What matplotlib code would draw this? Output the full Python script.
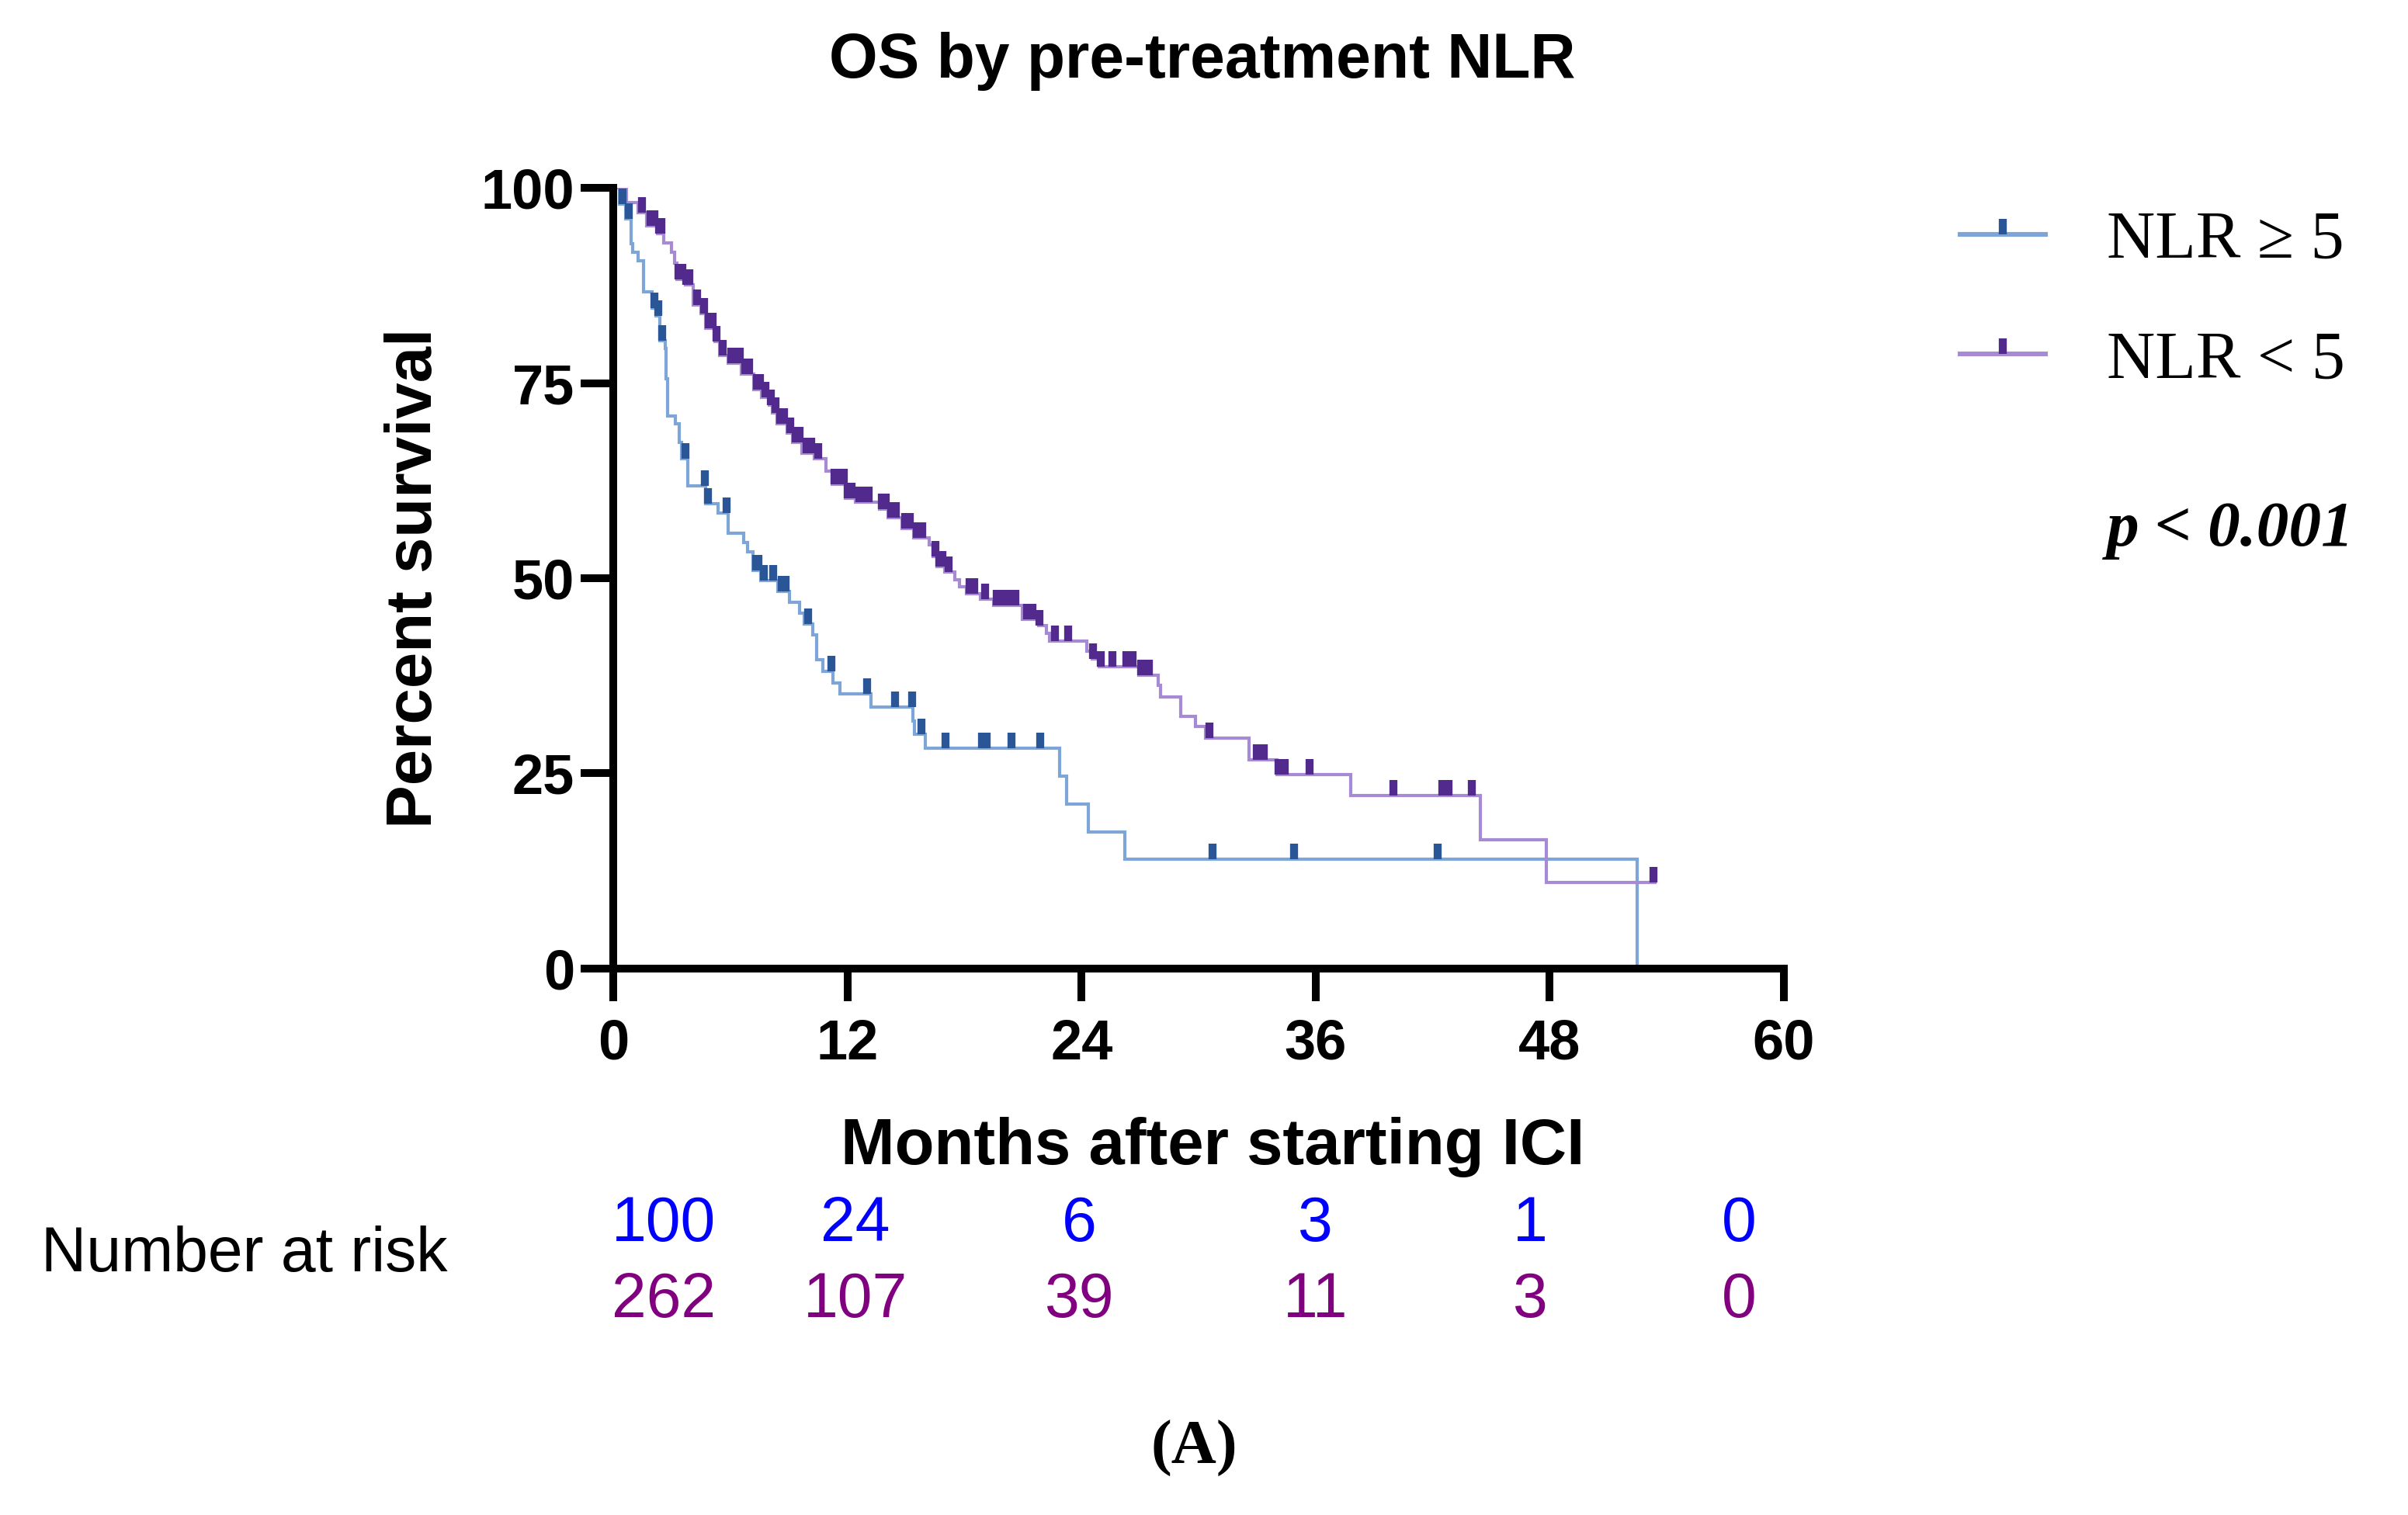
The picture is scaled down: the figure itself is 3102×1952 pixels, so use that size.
import matplotlib
matplotlib.use("Agg")
import matplotlib.pyplot as plt
import matplotlib.transforms as mtransforms
from matplotlib.lines import Line2D
from matplotlib.path import Path
import numpy as np

# ---- data ----
# NLR >= 5 : step times (months) and survival (%) after each step
high_t = [0, 0.33, 0.64, 0.9, 1.0, 1.26, 1.53, 1.99, 2.19, 2.39, 2.65, 2.72, 2.8,
          3.18, 3.38, 3.51, 3.82, 4.75, 5.37, 5.9, 6.7, 6.9, 7.16, 7.56, 8.42,
          9.02, 9.55, 9.79, 10.21, 10.41, 10.74, 11.27, 11.6, 13.2, 15.35, 15.45,
          15.98, 22.88, 23.24, 24.34, 26.2, 52.5]
high_s = [100, 97.9, 96.0, 92.8, 91.8, 90.7, 86.7, 84.6, 83.6, 80.4, 79.4, 75.5, 70.8,
          69.8, 67.4, 65.3, 61.8, 59.5, 58.3, 55.8, 54.6, 53.4, 51.0, 49.7, 48.3,
          46.9, 45.5, 44.1, 42.7, 39.6, 38.1, 36.6, 35.2, 33.5, 31.7, 30.0,
          28.2, 24.6, 21.1, 17.5, 14.0, 0]
high_end = 52.5
high_cens = [0.1, 0.49, 0.81, 2.12, 2.3, 2.52, 3.71, 4.7, 4.85, 5.81, 7.3, 7.45, 7.72,
             8.2, 8.62, 8.82, 9.99, 11.19, 13.0, 14.43, 15.32, 15.8, 17.03, 18.9,
             19.15, 20.4, 21.9, 30.7, 34.9, 42.25]

# NLR < 5
low_t = [0, 0.66, 1.26, 1.7, 2.25, 2.59, 2.98, 3.15, 3.25, 3.71, 4.11, 4.5, 4.75,
         5.2, 5.45, 5.9, 6.55, 7.2, 7.6, 8.0, 8.15, 8.4, 8.9, 9.2, 9.68, 10.3,
         10.88, 11.2, 11.9, 12.4, 13.65, 14.1, 14.8, 15.4, 16.2, 16.4, 16.6, 17.0,
         17.5, 17.75, 18.1, 18.8, 19.5, 20.97, 21.8, 22.2, 22.34, 24.28, 24.55,
         24.9, 26.95, 27.94, 28.06, 29.1, 29.85, 30.35, 32.6, 34.0, 37.8, 44.44,
         47.82]
low_s = [100, 98.1, 96.8, 95.1, 94.1, 92.9, 91.8, 90.4, 88.3, 87.6, 85.0, 83.9, 82.0,
         80.3, 78.5, 77.5, 76.1, 74.2, 73.2, 72.2, 71.2, 69.8, 68.6, 67.4, 66.0, 65.3,
         63.7, 62.0, 60.2, 59.7, 58.8, 57.8, 56.4, 55.2, 54.3, 52.8, 51.5, 50.8,
         49.8, 48.9, 48.0, 47.3, 46.5, 44.7, 43.9, 42.9, 41.9, 40.7, 39.7,
         38.7, 37.6, 36.3, 34.8, 32.3, 31.0, 29.5, 26.7, 24.8, 22.2, 16.5,
         11.0]
low_end = 53.4
low_cens = [0.49, 1.47, 1.9, 2.1, 2.35, 2.45, 3.35, 3.55, 3.75, 3.9, 4.3, 4.65, 4.9,
            5.1, 5.3, 5.6, 6.05, 6.3, 6.5, 6.75, 6.95, 7.35, 7.5, 7.8, 8.07, 8.3,
            8.55, 8.75, 9.05, 9.35, 9.55, 9.9, 10.15, 10.5, 11.35, 11.6, 11.8, 12.0,
            12.2, 12.6, 12.85, 13.1, 13.75, 13.95, 14.25, 14.5, 14.95, 15.2, 15.55,
            15.85, 16.5, 16.7, 16.85, 17.2, 18.25, 18.5, 19.05, 19.65, 19.95, 20.3,
            20.6, 21.2, 21.5, 21.85, 22.65, 23.3, 24.6, 25.0, 25.6, 26.3, 26.6,
            27.05, 27.45, 30.55, 33.0, 33.35, 34.1, 34.4, 35.7, 40.0, 42.5, 42.8,
            44.0, 53.3]

groups = ["NLR \u2265 5", "NLR < 5"]
risk_times = [0, 12, 24, 36, 48, 60]
risk_high = [100, 24, 6, 3, 1, 0]
risk_low = [262, 107, 39, 11, 3, 0]

line_cols = ["#7da5d8", "#a68bd4"]
mark_cols = ["#2a5596", "#522a8d"]
risk_cols = ["#0000ff", "#800080"]

# ---- figure ----
fig = plt.figure(figsize=(15.51, 9.76), dpi=200)
ax = fig.add_axes([0.2547, 0.3607, 0.4861, 0.5153])

tick_mark = Path([(0, 0), (0, 1)])


def km_value(t_steps, s_steps, t):
    idx = np.searchsorted(t_steps, t, side="right") - 1
    return np.asarray(s_steps)[idx]


curves = [(high_t, high_s, high_end, high_cens), (low_t, low_s, low_end, low_cens)]
for i, (tt, ss, tend, cens) in enumerate(curves):
    x = list(tt) + [tend]
    y = list(ss) + [ss[-1]]
    ax.step(x, y, where="post", color=line_cols[i], lw=1.5, zorder=2,
            solid_joinstyle="miter")
    cy = km_value(tt, ss, np.array(cens))
    ax.plot(cens, cy, ls="none", marker=tick_mark, ms=14.5, mew=3.7,
            mec=mark_cols[i], zorder=3)

ax.set_xlim(0, 60)
ax.set_ylim(0, 100)
ax.set_xticks(risk_times)
ax.set_yticks([0, 25, 50, 75, 100])
for s in ["top", "right"]:
    ax.spines[s].set_visible(False)
for s in ["left", "bottom"]:
    ax.spines[s].set_linewidth(3.6)
ax.tick_params(direction="out", length=15, width=3.6)
ax.tick_params(axis="x", pad=8)
ax.tick_params(axis="y", pad=3)
for lab in ax.get_xticklabels() + ax.get_yticklabels():
    lab.set_fontfamily("Liberation Sans")
    lab.set_fontweight("bold")
    lab.set_fontsize(26)

ax.set_xlabel("Months after starting ICI", fontsize=30, fontweight="bold",
              family="Liberation Sans")
ax.xaxis.set_label_coords(0.512, -0.19)
ax.set_ylabel("Percent survival", fontsize=30, fontweight="bold",
              family="Liberation Sans")
ax.yaxis.set_label_coords(-0.144, 0.5)

fig.text(0.4994, 0.9595, "OS by pre-treatment NLR", ha="center", va="center",
         fontsize=29, fontweight="bold", family="Liberation Sans")

# legend
handles = [Line2D([], [], color=line_cols[i], lw=2.2, marker=tick_mark, ms=14.5,
                  mew=3.7, mec=mark_cols[i]) for i in range(2)]
ax.legend(handles, groups, loc="upper left", bbox_to_anchor=(0.814, 0.861),
          bbox_transform=fig.transFigure, frameon=False, handlelength=1.28,
          handletextpad=0.92, labelspacing=0.87, borderpad=0, borderaxespad=0,
          prop={"family": "Liberation Serif", "size": 31})

fig.text(0.875, 0.6496, "p < 0.001", ha="left", va="center", fontsize=30,
         fontweight="bold", fontstyle="italic", family="Liberation Serif")

# number at risk table
fig.text(0.0171, 0.1717, "Number at risk", ha="left", va="center", fontsize=29,
         family="Liberation Sans")
blend = mtransforms.blended_transform_factory(ax.transData, fig.transFigure)
risk_x = [2.6, 12.4, 23.9, 36.0, 47.0, 57.7]
for xv, a, b in zip(risk_x, risk_high, risk_low):
    fig.text(xv, 0.1917, str(a), transform=blend, ha="center", va="center",
             fontsize=29, color=risk_cols[0], family="Liberation Sans")
    fig.text(xv, 0.1414, str(b), transform=blend, ha="center", va="center",
             fontsize=29, color=risk_cols[1], family="Liberation Sans")

fig.text(0.496, 0.044, "(A)", ha="center", va="center", fontsize=29,
         fontweight="bold", family="Liberation Serif")

fig.savefig("out.png", dpi=200)
